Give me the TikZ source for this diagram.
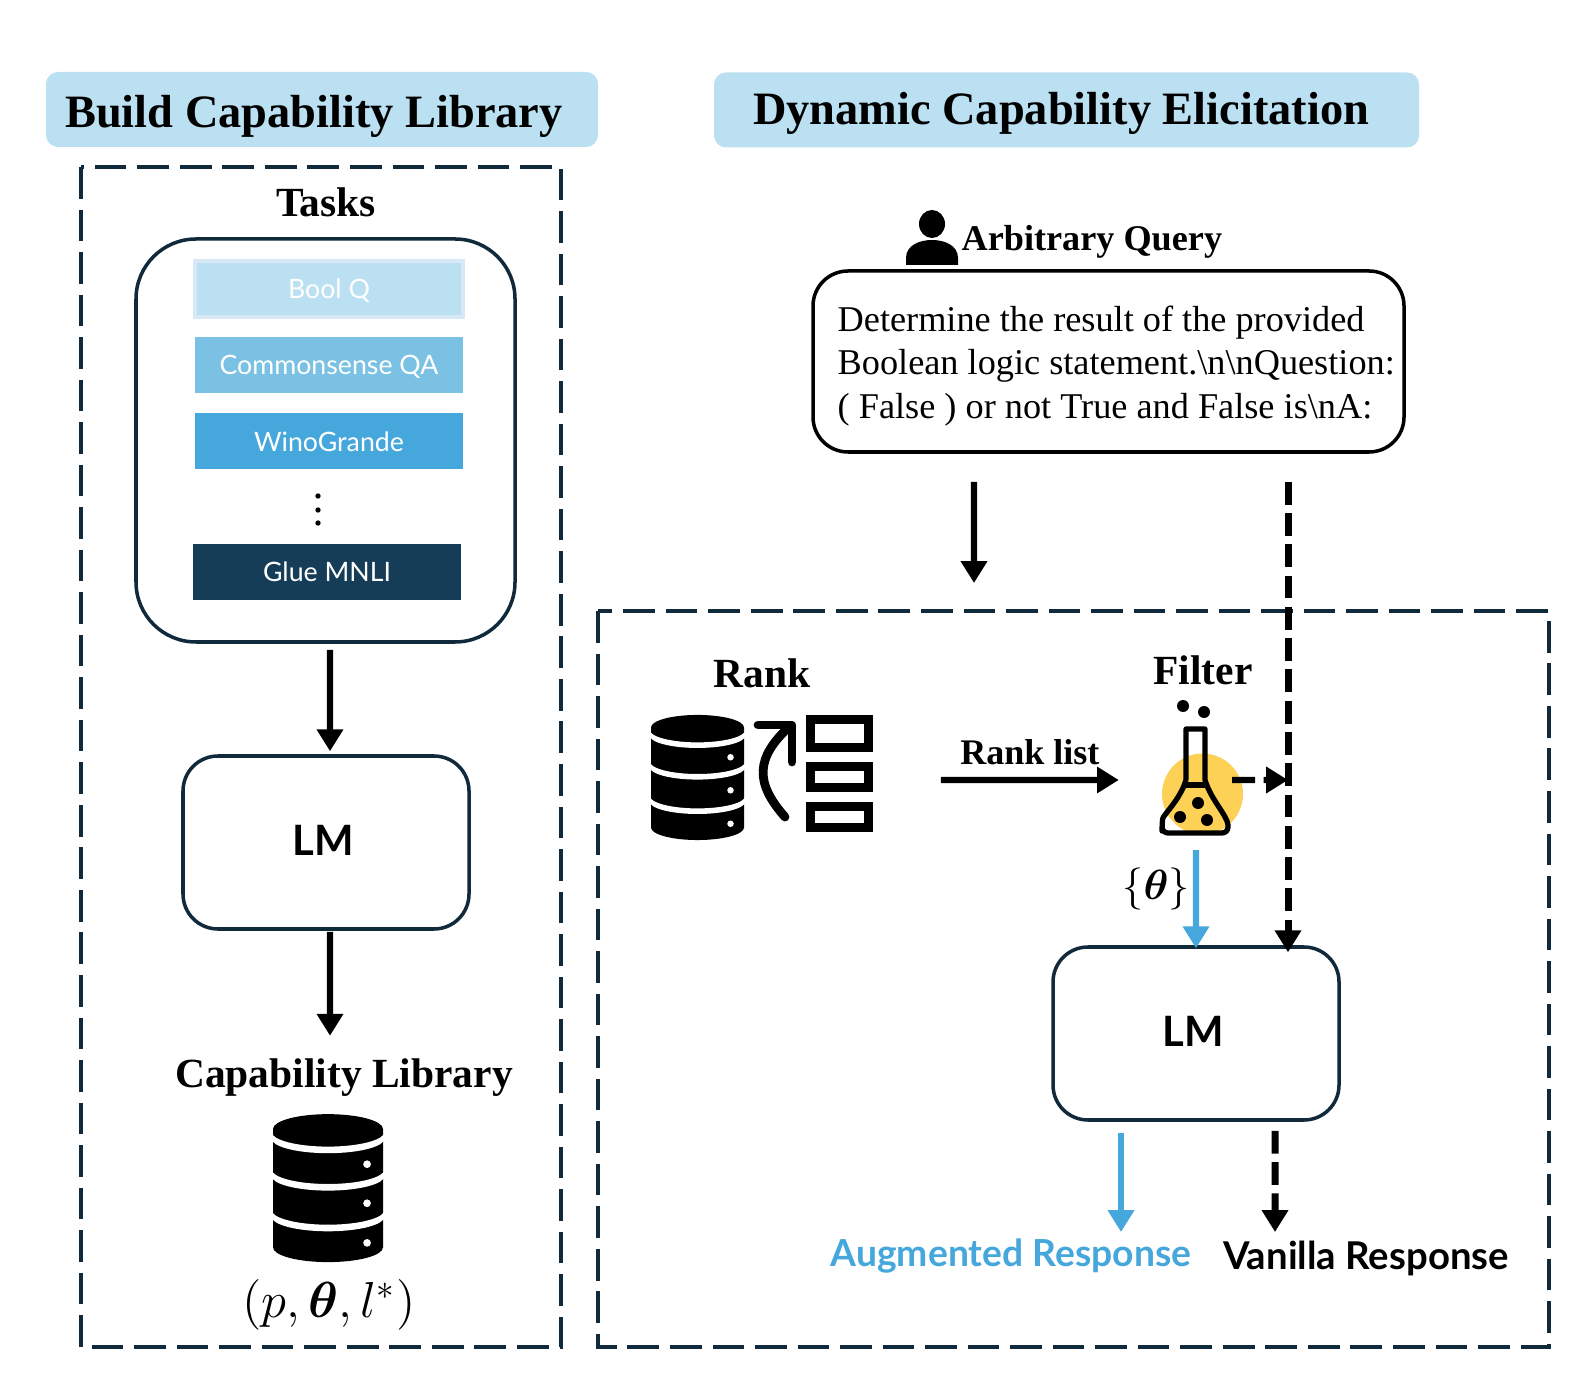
\documentclass[tikz,border=0pt]{standalone}
\usepackage{amsmath}
\usepackage{amssymb}
\usepackage{fontspec}
\setmainfont{Liberation Serif}
\newfontfamily\labelfont{Lato}
\usetikzlibrary{arrows.meta}
\definecolor{headblue}{HTML}{BBE0F2}
\definecolor{booledge}{HTML}{D9E8F6}
\definecolor{commonblue}{HTML}{7AC1E4}
\definecolor{winoblue}{HTML}{45A7DB}
\definecolor{glueblue}{HTML}{163D57}
\definecolor{framedark}{HTML}{10293B}
\definecolor{flaskyellow}{HTML}{FDD155}
\tikzset{
  headbox/.style={fill=headblue,rounded corners=.12cm,minimum height=.75cm},
  headtext/.style={font=\fontsize{13.2}{15}\selectfont\bfseries},
  sectext/.style={font=\fontsize{11.8}{14}\selectfont\bfseries},
  framedash/.style={framedark,line width=1pt,dash pattern=on 9pt off 3.1pt},
  taskbar/.style={text=white,font=\labelfont\fontsize{7.6}{9}\selectfont,minimum width=2.68cm,minimum height=.56cm,text height=5.6pt,text depth=0pt},
  lmbox/.style={draw=framedark,line width=1pt,rounded corners=.35cm,minimum width=2.86cm,minimum height=1.73cm,text depth=.04cm,font=\labelfont\fontsize{11.9}{14}\selectfont\bfseries},
  listbox/.style={draw,line width=2.5pt,minimum width=.58cm,inner sep=0pt},
  arrowline/.style={->,>={Triangle[length=6.2pt,width=7.2pt]},line width=1.8pt},
  bluearrow/.style={arrowline,winoblue},
  dashline/.style={arrowline,line width=2pt,dash pattern=on 6.5pt off 2.4pt},
  pics/dbicon/.style={code={
    \fill (-1,0) arc[start angle=180,end angle=0,x radius=1,y radius=.27]
      -- (1,-2.15) arc[start angle=360,end angle=180,x radius=1,y radius=.27] -- cycle;
    \foreach \y in {-.05,-.73,-1.47}
      \fill[white] (-1.03,\y) arc[start angle=180,end angle=360,x radius=1.03,y radius=.27]
        -- ++(0,-.12) arc[start angle=360,end angle=180,x radius=1.03,y radius=.27] -- cycle;
    \foreach \y in {-.64,-1.35,-2.07}
      \fill[white] (.71,\y) circle (.07);
  }}
}
\begin{document}
\begin{tikzpicture}
\useasboundingbox (0,0) rectangle (15.94,13.88);

\node[headbox,minimum width=5.52cm] (buildhead) at (3.22,12.785) {};
\node[headtext] (buildtitle) at (3.14,12.72) {Build Capability Library};
\node[headbox,minimum width=7.05cm] (dynhead) at (10.665,12.78) {};
\node[headtext] (dyntitle) at (10.61,12.75) {Dynamic Capability Elicitation};

\draw[framedash] (.81,12.21) rectangle (5.61,.41);
\draw[framedash] (5.98,7.77) rectangle (15.49,.41);

\node[sectext] (tasks) at (3.26,11.86) {Tasks};
\node[draw=framedark,line width=1pt,rounded corners=.6cm,minimum width=3.79cm,minimum height=4.03cm] (tasksbox) at (3.255,9.475) {};
\node[taskbar,fill=headblue,draw=booledge,line width=1pt] (boolq) at (3.29,10.99) {Bool Q};
\node[taskbar,fill=commonblue] (commonqa) at (3.29,10.23) {Commonsense QA};
\node[taskbar,fill=winoblue] (wino) at (3.29,9.465) {WinoGrande};
\foreach \y in {8.92,8.78,8.65}
  \fill (3.18,\y) circle (.027);
\node[taskbar,fill=glueblue] (glue) at (3.27,8.16) {Glue MNLI};

\node[lmbox] (lmleft) at (3.26,5.455) {LM\kern.06cm};
\node[sectext] (captitle) at (3.44,3.10) {Capability Library};
\pic at (3.28,2.59) [scale=.55] {dbicon};
\node[font=\fontsize{14.9}{17}\selectfont] (captuple) at (3.29,.83) {$(p,\boldsymbol{\theta},l^{*})$};

\draw[arrowline] ([shift={(.045,-.06)}]tasksbox.south) -- ([shift={(.04,.03)}]lmleft.north);
\draw[arrowline] ([shift={(.04,-.01)}]lmleft.south) -- ([shift={(-.14,.11)}]captitle.north);

\fill (9.32,11.64) ellipse (.13 and .14);
\fill (9.06,11.23) -- (9.06,11.30) .. controls (9.06,11.43) and (9.2,11.48) .. (9.32,11.48) .. controls (9.44,11.48) and (9.58,11.43) .. (9.58,11.30) -- (9.58,11.23) -- cycle;
\node[font=\fontsize{10.3}{12}\selectfont\bfseries,anchor=west,inner sep=0pt] (arbitrary) at (9.61,11.46) {Arbitrary Query};
\node[draw,line width=1pt,rounded corners=.35cm,minimum width=5.91cm,minimum height=1.81cm] (query) at (11.085,10.265) {};
\node[font=\fontsize{10.32}{12.4}\selectfont,align=left,anchor=west,inner sep=0pt] (querytext) at (8.37,10.22) {Determine the result of the provided\\Boolean logic statement.\textbackslash n\textbackslash nQuestion:\\( False ) or not True and False is\textbackslash nA:};

\coordinate (rankin) at (9.74,8.05);
\draw[arrowline] ([shift={(-1.345,-.28)}]query.south) -- (rankin);

\node[sectext] (rank) at (7.62,7.15) {Rank};
\pic at (6.975,6.605) [scale=.465] {dbicon};
\node[listbox,minimum height=.28cm] (list1) at (8.395,6.545) {};
\node[listbox,minimum height=.21cm] (list2) at (8.395,6.11) {};
\node[listbox,minimum height=.21cm] (list3) at (8.395,5.71) {};
\draw[line width=2.5pt,line cap=round] (7.85,5.71) .. controls (7.55,6.05) and (7.55,6.3) .. (7.90,6.62);
\draw[line width=2.5pt,line cap=round,line join=round] (7.58,6.63) -- (7.92,6.63) -- (7.92,6.26);

\node[sectext] (filter) at (12.03,7.18) {Filter};
\node[circle,fill=flaskyellow,minimum size=.81cm,inner sep=0pt] (flask) at (12.025,5.94) {};
\fill (11.83,6.82) circle (.06);
\fill (12.04,6.76) circle (.06);
\draw[line width=1.5pt,line join=round] (11.86,6.08) -- (11.86,6.59) -- (12.05,6.59) -- (12.05,6.08) .. controls (12.11,5.88) and (12.27,5.73) .. (12.28,5.63) [rounded corners=.06cm] -- (12.28,5.55) -- (11.62,5.55) -- (11.62,5.63) [sharp corners] .. controls (11.63,5.73) and (11.80,5.88) .. (11.86,6.08);
\draw[line width=1.5pt] (11.85,6.03) -- (12.06,6.03);
\fill (11.98,5.85) circle (.06);
\fill (11.80,5.71) circle (.06);
\fill (12.07,5.68) circle (.06);

\draw[arrowline] ([shift={(.68,-.03)}]list2.east) -- node[above,font=\fontsize{10.25}{12}\selectfont\bfseries] (ranklist) {Rank list} ([shift={(-.425,.14)}]flask.west);

\coordinate (dashjoin) at (12.88,6.08);
\draw[dashline,line width=1.8pt] ([shift={(-.115,.14)}]flask.east) -- (dashjoin);

\node[lmbox] (lmright) at (11.96,3.545) {LM\kern.06cm};
\draw[bluearrow] ([shift={(-.065,-.15)}]flask.south) -- ([yshift=-.03cm]lmright.north);
\node[font=\fontsize{13}{15}\selectfont] (thetaset) at (11.56,4.99) {$\{\boldsymbol{\theta}\}$};
\draw[dashline] ([shift={(1.795,-.28)}]query.south) -- ([shift={(.92,-.07)}]lmright.north);

\coordinate (augin) at (11.21,1.56);
\coordinate (vanin) at (12.75,1.56);
\draw[bluearrow] ([shift={(-.75,-.11)}]lmright.south) -- (augin);
\draw[dashline] ([shift={(.79,-.09)}]lmright.south) -- (vanin);
\node[text=winoblue,font=\labelfont\fontsize{10.6}{12}\selectfont\bfseries] (augresp) at (10.11,1.32) {Augmented Response};
\node[font=\labelfont\fontsize{10.9}{12}\selectfont\bfseries] (vanresp) at (13.66,1.30) {Vanilla Response};
\end{tikzpicture}
\end{document}
